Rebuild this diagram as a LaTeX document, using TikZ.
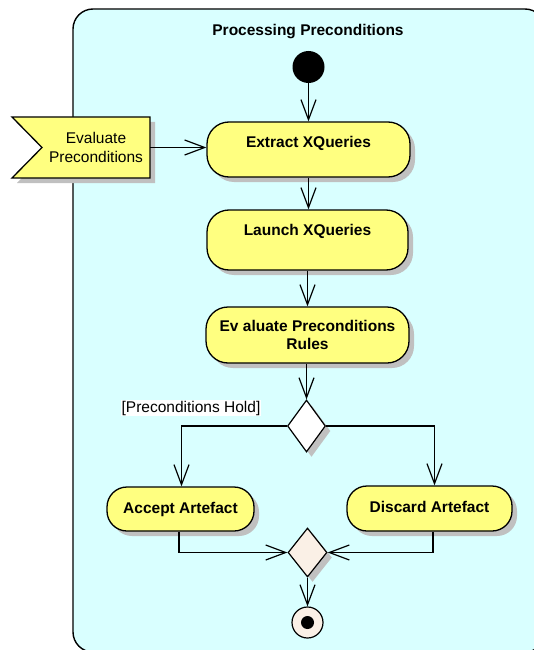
\documentclass[tikz,border=0pt]{standalone}
\usepackage{fontspec}
\setmainfont{Liberation Sans}
\usetikzlibrary{arrows.meta,shapes.geometric,shadows}
\definecolor{framefill}{HTML}{D9FFFF}
\definecolor{actfill}{HTML}{FFFF80}
\definecolor{mergefill}{HTML}{FAF0E6}
\definecolor{shadowgray}{HTML}{C0C0C0}
\tikzset{
  shade5/.style={drop shadow={shadow xshift=5pt,shadow yshift=-5pt,fill=shadowgray,opacity=1}},
  boldtext/.style={font=\fontsize{15.5}{18}\selectfont\bfseries, align=center},
  bodytext/.style={font=\fontsize{15.5}{19.5}\selectfont, align=center},
  action/.style={draw, line width=1.3pt, fill=actfill, rounded corners=22pt, shade5, inner sep=0pt, boldtext},
  decision/.style={diamond, draw, line width=1.2pt, shade5, inner sep=0pt, minimum width=38pt, minimum height=52pt},
  flow/.style={line width=1.2pt, -{Straight Barb[length=20pt,width=15pt,line width=1.2pt]}},
}
\begin{document}
\begin{tikzpicture}[x=1pt,y=-1pt]
\useasboundingbox (0,0) rectangle (534,650);
\clip (0,0) rectangle (534,650);

% activity frame
\draw[line width=1.4pt, fill=framefill, rounded corners=20pt] (73,9) rectangle (545,652);
\node[boldtext] (title) at (308,32) {Processing Preconditions};

% incoming event
\path[draw, line width=1.3pt, fill=actfill, shade5]
  (12,117) -- (150,117) -- (150,178) -- (12,178) -- (42,147.5) -- cycle;
\node[bodytext, minimum width=108pt, minimum height=61pt, inner sep=0pt] (evalsig) at (96,147.5) {Evaluate\\Preconditions};

% initial node
\node[circle, fill=black, minimum size=32pt, inner sep=0pt] (init) at (308.5,67) {};

% actions
\node[action, minimum width=203pt, minimum height=55pt] (extract) at (308.5,149.5) {};
\node[boldtext] (extractT) at (308.5,143) {Extract XQueries};
\node[action, minimum width=201pt, minimum height=60pt] (launch) at (307.5,240) {};
\node[boldtext] (launchT) at (307.5,231) {Launch XQueries};
\node[action, minimum width=203pt, minimum height=56pt] (rules) at (307.5,335) {Ev aluate Preconditions\\Rules};
\node[action, rounded corners=20pt, minimum width=147pt, minimum height=44pt] (accept) at (180.5,509) {Accept Artefact};
\node[action, rounded corners=20pt, minimum width=165pt, minimum height=45pt] (discard) at (429.5,508.5) {};
\node[boldtext] (discardT) at (429.5,507) {Discard Artefact};

% decision, merge and final nodes
\node[decision, fill=white] (dec) at (306.5,426) {};
\node[decision, fill=mergefill, minimum width=39pt, minimum height=49pt] (merge) at (307.5,552.5) {};
\node[circle, draw, line width=1.2pt, fill=mergefill, minimum size=31pt, inner sep=0pt] (final) at (307.5,622.5) {};
\fill (final.center) circle (6.5pt);

% guard
\node[bodytext, fill=white, inner sep=1pt] (guard) at (191,408) {[Preconditions Hold]};

% flows
\draw[flow] (evalsig.east) -- (evalsig.east -| extract.west);
\draw[flow] (init.south) -- (init.south |- extract.north);
\draw[flow] (extract.south) -- (extract.south |- launch.north);
\draw[flow] (launch.south) -- (launch.south |- rules.north);
\draw[flow] (dec.north |- rules.south) -- (dec.north);
\draw[flow] (dec.west) -| ([xshift=1pt]accept.north);
\draw[flow] (dec.east) -| ([xshift=5pt]discard.north);
\draw[flow] ([xshift=-1.5pt]accept.south) |- (merge.west);
\draw[flow] ([xshift=3.5pt]discard.south) |- (merge.east);
\draw[flow] (merge.south) -- (final.north);
\end{tikzpicture}
\end{document}
